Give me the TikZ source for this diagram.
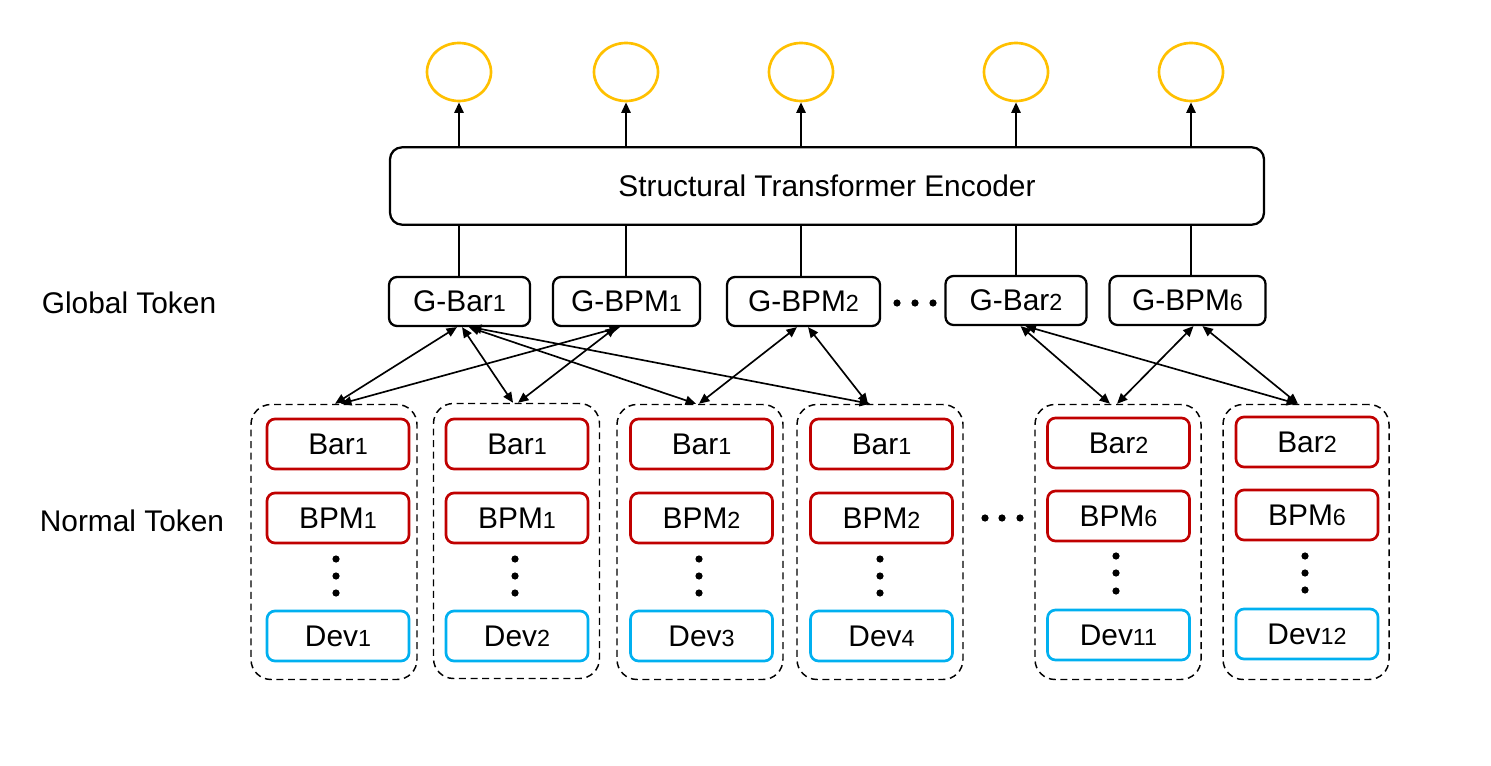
\documentclass[tikz,border=0pt]{standalone}
\usepackage{fontspec}
\setmainfont{Liberation Sans}
\usetikzlibrary{arrows.meta,shapes.geometric}

\definecolor{barred}{RGB}{192,0,0}
\definecolor{devblue}{RGB}{0,176,240}
\definecolor{outyellow}{RGB}{255,192,0}
\newcommand{\idx}[1]{{\fontsize{17.5}{17.5}\selectfont #1}}

\tikzset{every picture/.style={line width=0.75pt}}
\tikzset{
  tokfont/.style={font=\fontsize{22.4}{26}\selectfont},
  gtok/.style={draw, line width=1.7pt, rounded corners=6pt, minimum height=36.75pt, inner sep=0pt, tokfont},
  ntok/.style={draw=barred, line width=2pt, rounded corners=6pt, minimum width=106.5pt, minimum height=37.5pt, inner sep=0pt, tokfont},
  dtok/.style={ntok, draw=devblue},
  grpbox/.style={draw, dashed, dash pattern=on 5.2pt off 3.5pt, line width=1.1pt, rounded corners=15pt, minimum width=124.5pt, minimum height=206.25pt, inner sep=0pt},
  outnode/.style={draw=outyellow, ellipse, line width=2pt, minimum width=48pt, minimum height=43.5pt, inner sep=0pt},
  uparr/.style={line width=1.5pt, -{Triangle[length=8pt,width=7pt]}},
  biarr/.style={line width=1.25pt, {Triangle[length=7.8pt,width=6.8pt]}-{Triangle[length=7.8pt,width=6.8pt]}}
}

\begin{document}
\begin{tikzpicture}[x=0.75pt,y=0.75pt,yscale=-1,xscale=1]
\useasboundingbox (0,0) rectangle (1491,766);

%Shape: Ellipse (outputs)
\node [outnode] (o1) at (459,72) {};
\node [outnode] (o2) at (626,72) {};
\node [outnode] (o3) at (801,72) {};
\node [outnode] (o4) at (1016,72) {};
\node [outnode] (o5) at (1191,72) {};

%Shape: Rounded Rect (encoder)
\node [draw, line width=1.7pt, rounded corners=9pt, minimum width=655.5pt, minimum height=58pt, inner sep=0pt, tokfont] (enc) at (827,186) {Structural Transformer Encoder};

% Global tokens
\node [gtok, minimum width=105.75pt] (gbar1) at (459.5,301.5) {G-Bar\idx{1}};
\node [gtok, minimum width=110.25pt] (gbpm1) at (626.5,301.5) {G-BPM\idx{1}};
\node [gtok, minimum width=114.75pt] (gbpm2) at (803.5,301.5) {G-BPM\idx{2}};
\node [gtok, minimum width=105.75pt] (gbar2) at (1016,300.5) {G-Bar\idx{2}};
\node [gtok, minimum width=117pt] (gbpm6) at (1187.5,300.5) {G-BPM\idx{6}};

% Text Node
\node [tokfont] (glab) at (129,303) {Global Token};
% Text Node
\node [tokfont] (nlab) at (132,521) {Normal Token};

%Straight Lines (encoder to outputs)
\draw [uparr] (enc.north -| o1) -- (o1.south);
\draw [uparr] (enc.north -| o2) -- (o2.south);
\draw [uparr] (enc.north -| o3) -- (o3.south);
\draw [uparr] (enc.north -| o4) -- (o4.south);
\draw [uparr] (enc.north -| o5) -- (o5.south);

%Straight Lines (tokens to encoder)
\draw [line width=1.5pt] (gbar1.north -| o1) -- (enc.south -| o1);
\draw [line width=1.5pt] (gbpm1.north -| o2) -- (enc.south -| o2);
\draw [line width=1.5pt] (gbpm2.north -| o3) -- (enc.south -| o3);
\draw [line width=1.5pt] (gbar2.north -| o4) -- (enc.south -| o4);
\draw [line width=1.5pt] (gbpm6.north -| o5) -- (enc.south -| o5);

% dots between global tokens
\fill (897,303) circle (2.7pt);
\fill (915,303) circle (2.7pt);
\fill (933,303) circle (2.7pt);

%Shape: Dashed groups
\node [grpbox] (g1) at (334,542) {};
\node [grpbox] (g2) at (516.5,541) {};
\node [grpbox] (g3) at (700,542) {};
\node [grpbox] (g4) at (880,542) {};
\node [grpbox] (g5) at (1118,542) {};
\node [grpbox] (g6) at (1306,542) {};

% group 1
\node [ntok] (bar1a) at (338,444) {Bar\idx{1}};
\node [ntok] (bpm1a) at (338,518) {BPM\idx{1}};
\node [dtok] (dev1) at (338,636) {Dev\idx{1}};
% group 2
\node [ntok] (bar1b) at (517,444) {Bar\idx{1}};
\node [ntok] (bpm1b) at (517,518) {BPM\idx{1}};
\node [dtok] (dev2) at (517,636) {Dev\idx{2}};
% group 3
\node [ntok] (bar1c) at (701.5,444) {Bar\idx{1}};
\node [ntok] (bpm2a) at (701.5,518) {BPM\idx{2}};
\node [dtok] (dev3) at (701.5,636) {Dev\idx{3}};
% group 4
\node [ntok] (bar1d) at (881.5,444) {Bar\idx{1}};
\node [ntok] (bpm2b) at (881.5,518) {BPM\idx{2}};
\node [dtok] (dev4) at (881.5,636) {Dev\idx{4}};
% group 5
\node [ntok] (bar2a) at (1118.5,443) {Bar\idx{2}};
\node [ntok] (bpm6a) at (1118.5,516) {BPM\idx{6}};
\node [dtok] (dev11) at (1118.5,635) {Dev\idx{11}};
% group 6
\node [ntok] (bar2b) at (1307,442) {Bar\idx{2}};
\node [ntok] (bpm6b) at (1307,515) {BPM\idx{6}};
\node [dtok] (dev12) at (1307,634) {Dev\idx{12}};

% vertical dots
\fill (336,559) circle (2.7pt);
\fill (336,576) circle (2.7pt);
\fill (336,593) circle (2.7pt);
\fill (515,559) circle (2.7pt);
\fill (515,576) circle (2.7pt);
\fill (515,593) circle (2.7pt);
\fill (699,559) circle (2.7pt);
\fill (699,576) circle (2.7pt);
\fill (699,593) circle (2.7pt);
\fill (880,559) circle (2.7pt);
\fill (880,576) circle (2.7pt);
\fill (880,593) circle (2.7pt);
\fill (1116,556) circle (2.7pt);
\fill (1116,573) circle (2.7pt);
\fill (1116,591) circle (2.7pt);
\fill (1305,556) circle (2.7pt);
\fill (1305,573) circle (2.7pt);
\fill (1305,590) circle (2.7pt);

% dots between groups
\fill (985,518) circle (2.7pt);
\fill (1002,518) circle (2.7pt);
\fill (1020,518) circle (2.7pt);

%Straight Lines (global to normal)
\draw [biarr] ([xshift=-1.9pt]gbar1.south) -- ([xshift=0.75pt]g1.north);
\draw [biarr] ([xshift=1.9pt]gbar1.south) -- ([xshift=-2.6pt]g2.north);
\draw [biarr] ([xshift=7pt]gbar1.south) -- ([xshift=-3pt]g3.north);
\draw [biarr] ([xshift=8.6pt]gbar1.south) -- ([xshift=-7.5pt]g4.north);
\draw [biarr] ([xshift=-4.9pt]gbpm1.south) -- ([xshift=5.25pt]g1.north);
\draw [biarr] ([xshift=-7.9pt]gbpm1.south) -- ([xshift=1.1pt]g2.north);
\draw [biarr] ([xshift=-4.9pt]gbpm2.south) -- ([xshift=-0.75pt]g3.north);
\draw [biarr] ([xshift=3.4pt]gbpm2.south) -- ([xshift=-9pt]g4.north);
\draw [biarr] ([xshift=3.4pt]gbar2.south) -- ([xshift=-6pt]g5.north);
\draw [biarr] ([xshift=7.1pt]gbar2.south) -- ([xshift=-6.75pt]g6.north);
\draw [biarr] ([xshift=4.5pt]gbpm6.south) -- ([xshift=-0.75pt]g5.north);
\draw [biarr] ([xshift=11.25pt]gbpm6.south) -- ([xshift=-6pt]g6.north);

\end{tikzpicture}
\end{document}
